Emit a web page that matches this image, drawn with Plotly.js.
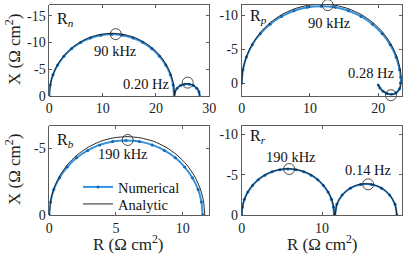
<!DOCTYPE html>
<html>
<head>
<meta charset="utf-8">
<script src="https://cdn.plot.ly/plotly-3.0.1.min.js"></script>
<style>html,body{margin:0;padding:0;background:#fff;}#plot{width:419px;height:257px;}</style>
</head>
<body>
<div id="plot"></div>
<script>
// ---- Data (R, X in ohm cm^2; X plotted as read, negative = capacitive) ----
var rnNumR = [0, 0.18, 0.70, 1.57, 2.74, 4.18, 5.85, 7.70, 9.66, 11.7, 13.74, 15.70, 17.55, 19.22, 20.66, 21.83, 22.70, 23.22, 23.4, 23.54, 23.96, 24.6, 25.38, 26.22, 27.0, 27.64, 28.06, 28.2];
var rnNumX = [0, -2.00, -3.93, -5.75, -7.39, -8.81, -9.96, -10.81, -11.33, -11.5, -11.33, -10.81, -9.96, -8.81, -7.39, -5.75, -3.93, -2.00, 0, -0.75, -1.41, -1.91, -2.17, -2.17, -1.91, -1.41, -0.75, 0];
var rnAnaR = [0, 0.18, 0.70, 1.57, 2.75, 4.19, 5.88, 7.73, 9.71, 11.75, 13.79, 15.77, 17.63, 19.31, 20.75, 21.93, 22.80, 23.32, 23.5, 23.64, 24.05, 24.68, 25.44, 26.26, 27.03, 27.65, 28.06, 28.2];
var rnAnaX = [0, -2.04, -4.0, -5.85, -7.52, -8.96, -10.13, -11.0, -11.52, -11.7, -11.52, -11.0, -10.13, -8.96, -7.52, -5.85, -4.0, -2.04, 0, -0.77, -1.45, -1.95, -2.22, -2.22, -1.95, -1.45, -0.77, 0];

var rpNumR = [0, 0.18, 0.70, 1.56, 2.73, 4.16, 5.83, 7.67, 9.62, 11.65, 13.68, 15.63, 17.48, 19.14, 20.57, 21.74, 22.60, 23.12, 23.28, 23.3, 23.1, 22.6, 21.95, 21.3, 20.7, 20.25, 20.0];
var rpNumX = [0, -1.97, -3.86, -5.65, -7.27, -8.66, -9.79, -10.62, -11.13, -11.3, -11.13, -10.62, -9.79, -8.66, -7.27, -5.65, -3.86, -1.97, -0.9, -0.1, 0.8, 1.4, 1.62, 1.5, 1.15, 0.7, 0.25];
var rpAnaR = [0, 0.18, 0.71, 1.57, 2.74, 4.18, 5.85, 7.70, 9.66, 11.7, 13.74, 15.70, 17.55, 19.22, 20.66, 21.83, 22.70, 23.22, 23.38, 23.38, 23.15, 22.65, 21.95, 21.3, 20.7, 20.25, 20.0];
var rpAnaX = [0, -2.02, -3.97, -5.8, -7.46, -8.89, -10.05, -10.9, -11.42, -11.6, -11.42, -10.9, -10.05, -8.89, -7.46, -5.8, -3.97, -2.02, -0.9, -0.1, 0.8, 1.42, 1.65, 1.52, 1.15, 0.7, 0.25];

var rbNumR = [0, 0.09, 0.34, 0.77, 1.35, 2.05, 2.88, 3.78, 4.75, 5.75, 6.75, 7.72, 8.63, 9.45, 10.15, 10.73, 11.16, 11.41, 11.5];
var rbNumX = [0, -0.97, -1.92, -2.8, -3.6, -4.29, -4.85, -5.26, -5.52, -5.6, -5.52, -5.26, -4.85, -4.29, -3.6, -2.8, -1.92, -0.97, 0];
var rbAnaR = [0, 0.09, 0.35, 0.78, 1.36, 2.08, 2.92, 3.84, 4.82, 5.83, 6.84, 7.82, 8.75, 9.58, 10.30, 10.88, 11.31, 11.57, 11.66];
var rbAnaX = [0, -1.02, -2.01, -2.94, -3.78, -4.50, -5.09, -5.53, -5.79, -5.88, -5.79, -5.53, -5.09, -4.50, -3.78, -2.94, -2.01, -1.02, 0];

var rrNumR = [0, 0.09, 0.34, 0.77, 1.35, 2.05, 2.88, 3.78, 4.75, 5.75, 6.75, 7.72, 8.63, 9.45, 10.15, 10.73, 11.16, 11.41, 11.5, 11.6, 11.83, 12.5, 13.53, 14.78, 16.12, 17.38, 18.4, 19.07, 19.3];
var rrNumX = [0, -0.99, -1.95, -2.85, -3.66, -4.37, -4.94, -5.36, -5.61, -5.7, -5.61, -5.36, -4.94, -4.37, -3.66, -2.85, -1.95, -0.99, 0, 0, -1.32, -2.48, -3.33, -3.79, -3.79, -3.33, -2.48, -1.32, 0];
var rrAnaR = [0, 0.09, 0.35, 0.77, 1.35, 2.06, 2.89, 3.79, 4.77, 5.77, 6.77, 7.75, 8.65, 9.48, 10.18, 10.76, 11.19, 11.45, 11.54, 11.6, 11.83, 12.5, 13.53, 14.78, 16.12, 17.38, 18.4, 19.07, 19.3];
var rrAnaX = [0, -1.0, -1.97, -2.88, -3.70, -4.40, -4.98, -5.40, -5.66, -5.75, -5.66, -5.40, -4.98, -4.40, -3.70, -2.88, -1.97, -1.0, 0, 0, -1.33, -2.51, -3.38, -3.84, -3.84, -3.38, -2.51, -1.33, 0];

// marked frequencies: [R, X]
var markR = {n: [12.45, 25.95], p: [12.6, 21.85], b: [5.88], r: [5.9, 15.73]};
var markX = {n: [-11.55, -2.45], p: [-11.45, 1.75], b: [-5.63], r: [-5.71, -3.81]};
var markText = {n: ['90 kHz', '0.20 Hz'], p: ['90 kHz', '0.28 Hz'], b: ['190 kHz'], r: ['190 kHz', '0.14 Hz']};
var textR = {n: [12.47, 18.2], p: [12.8, 19.0], b: [5.55], r: [6.12, 15.73]};
var textX = {n: [-8.3, -2.2], p: [-8.8, -1.46], b: [-4.55], r: [-7.24, -5.59]};

var panelNames = ['n', 'p', 'b', 'r'];
var xTicks = {n: [0, 10, 20, 30], p: [0, 10, 20], b: [0, 5, 10], r: [0, 10, 20]};
var yTicks = {n: [-15, -10, -5, 0], p: [-10, -5, 0], b: [-5, 0], r: [-10, -5, 0]};

// ---- Build ----
var FONT = 'Times New Roman';
var BLUE = '#3493de';
var series = {
  n: [rnNumR, rnNumX, rnAnaR, rnAnaX],
  p: [rpNumR, rpNumX, rpAnaR, rpAnaX],
  b: [rbNumR, rbNumX, rbAnaR, rbAnaX],
  r: [rrNumR, rrNumX, rrAnaR, rrAnaX]
};
var axSuffix = {n: '', p: '2', b: '3', r: '4'};
var traces = [];
panelNames.forEach(function (k, i) {
  var s = series[k];
  var xa = 'x' + axSuffix[k], ya = 'y' + axSuffix[k];
  traces.push({x: s[0], y: s[1], xaxis: xa, yaxis: ya, type: 'scatter', mode: 'lines+markers',
    name: 'Numerical', showlegend: i === 0, legend: 'legend',
    line: {color: BLUE, width: 2, shape: 'spline', smoothing: 0.6},
    marker: {color: '#1667b5', size: 3}});
  traces.push({x: s[2], y: s[3], xaxis: xa, yaxis: ya, type: 'scatter', mode: 'lines',
    name: 'Analytic', showlegend: i === 0, legend: 'legend2',
    line: {color: '#111', width: 0.9, shape: 'spline', smoothing: 0.6}});
  traces.push({x: markR[k], y: markX[k], xaxis: xa, yaxis: ya, type: 'scatter', mode: 'markers',
    showlegend: false, cliponaxis: false, hoverinfo: 'skip',
    marker: {symbol: 'circle-open', size: 11, color: '#222', line: {width: 0.8, color: '#222'}}});
});

var W = 419, H = 257;
function dx(a, b) { return [a / W, b / W]; }
function dy(top, bot) { return [1 - bot / H, 1 - top / H]; }

function xax(dom, range, ticks, anchor) {
  return {domain: dom, range: range, tickvals: ticks, ticktext: ticks.map(String), anchor: anchor,
    showline: true, mirror: 'ticks', linecolor: '#333', linewidth: 0.8, ticks: 'inside', ticklen: 3,
    tickcolor: '#333', tickwidth: 0.8, showgrid: false, zeroline: false,
    tickfont: {family: FONT, size: 14, color: '#222'}};
}
function yax(dom, range, ticks, anchor) {
  var a = xax(dom, range, ticks, anchor);
  a.ticktext = ticks.map(function (v) { return v < 0 ? '-' + Math.abs(v) : String(v); });
  return a;
}

var annotations = [];
panelNames.forEach(function (k) {
  textR[k].forEach(function (r, j) {
    annotations.push({x: r, y: textX[k][j], xref: 'x' + axSuffix[k], yref: 'y' + axSuffix[k],
      xanchor: 'center', yanchor: 'middle',
      text: markText[k][j], showarrow: false, font: {family: FONT, size: 14.5, color: '#111'}});
  });
});
var panelLabels = [['R<sub><i>n</i></sub>', 55, 20], ['R<sub><i>p</i></sub>', 248, 17], ['R<sub><i>b</i></sub>', 55, 140], ['R<sub><i>r</i></sub>', 248, 136]];
panelLabels.forEach(function (p) {
  annotations.push({x: p[1] / W, y: 1 - p[2] / H, xref: 'paper', yref: 'paper', xanchor: 'left', yanchor: 'middle',
    text: p[0], showarrow: false, font: {family: FONT, size: 16, color: '#111'}});
});
// axis titles
[50, 170].forEach(function (c) {
  annotations.push({x: 13 / W, y: 1 - c / H, xref: 'paper', yref: 'paper', textangle: -90,
    xanchor: 'center', yanchor: 'middle',
    text: 'X (Ω cm<sup>2</sup>)', showarrow: false, font: {family: FONT, size: 17, color: '#222'}});
});
[128, 322].forEach(function (c) {
  annotations.push({x: c / W, y: 1 - 243 / H, xref: 'paper', yref: 'paper',
    xanchor: 'center', yanchor: 'middle',
    text: 'R (Ω cm<sup>2</sup>)', showarrow: false, font: {family: FONT, size: 17, color: '#222'}});
});

var legendBase = {xanchor: 'left', yanchor: 'middle', bgcolor: 'rgba(0,0,0,0)',
  font: {family: FONT, size: 14.5, color: '#111'}, itemwidth: 30};
var layout = {
  width: W, height: H, margin: {l: 0, r: 0, t: 0, b: 0}, paper_bgcolor: '#fff', plot_bgcolor: '#fff',
  showlegend: true,
  legend: Object.assign({x: 78 / W, y: 1 - 187 / H}, legendBase),
  legend2: Object.assign({x: 78 / W, y: 1 - 204 / H}, legendBase),
  xaxis: xax(dx(49.3, 209.3), [0, 30], xTicks.n, 'y'),
  yaxis: yax(dy(4.5, 95.7), [0, -17.1], yTicks.n, 'x'),
  xaxis2: xax(dx(241.7, 401.7), [0, 23.43], xTicks.p, 'y2'),
  yaxis2: yax(dy(4.5, 95.7), [1.82, -11.54], yTicks.p, 'x2'),
  xaxis3: xax(dx(49.3, 209.3), [0, 12.0], xTicks.b, 'y3'),
  yaxis3: yax(dy(126, 215), [0, -6.68], yTicks.b, 'x3'),
  xaxis4: xax(dx(241.7, 401.7), [0, 19.9], xTicks.r, 'y4'),
  yaxis4: yax(dy(126, 215), [0, -11.05], yTicks.r, 'x4'),
  annotations: annotations
};
Plotly.newPlot('plot', traces, layout, {staticPlot: true, displayModeBar: false});
</script>
</body>
</html>
